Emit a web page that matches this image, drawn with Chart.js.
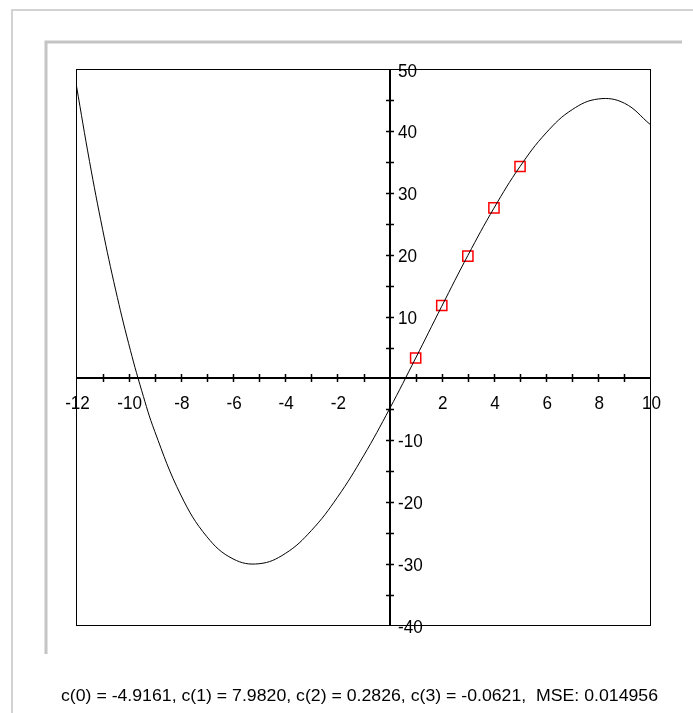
<!DOCTYPE html>
<html>
<head>
<meta charset="utf-8">
<script src="https://cdn.jsdelivr.net/npm/chart.js@4"></script>
<style>
  html, body { margin: 0; padding: 0; background: #fff; }
  canvas { display: block; }
</style>
</head>
<body>
<canvas id="fitCanvas" width="693" height="713"></canvas>
<script>
// fitted cubic, sampled along x
const curveX = [-12, -11.5, -11, -10.5, -10, -9.5, -9, -8, -7, -6, -5, -4, -3, -2, -1, 0, 1, 2, 3, 4, 5, 6, 7, 8, 9, 10];
const curveY = [47.30, 35.11, 24.13, 14.32, 5.62, -2.00, -8.59, -18.89, -25.64, -29.22, -30.00, -28.35, -24.64, -19.25, -12.55, -4.92, 3.29, 11.68, 19.90, 27.56, 34.30, 39.74, 43.51, 45.23, 44.54, 41.06];

// measured samples
const sampleX = [1, 2, 3, 4, 5];
const sampleY = [3.3, 11.8, 19.8, 27.6, 34.3];

// fit coefficients c(0)..c(3) and error
const coeffs = ['-4.9161', '7.9820', '0.2826', '-0.0621'];
const mse = '0.014956';

// axes
const xMin = -12, xMax = 10;
const yMin = -40, yMax = 50;
const xTickValues = [-11, -10, -9, -8, -7, -6, -5, -4, -3, -2, -1, 1, 2, 3, 4, 5, 6, 7, 8, 9];
const xLabelValues = [-12, -10, -8, -6, -4, -2, 2, 4, 6, 8, 10];
const yTickValues = [-35, -30, -25, -20, -15, -10, -5, 5, 10, 15, 20, 25, 30, 35, 40, 45];
const yLabelValues = [50, 40, 30, 20, 10, -10, -20, -30, -40];

const LABEL_FONT = '19px "Liberation Sans", Arial, sans-serif';
const NOTE_FONT = '16px "Liberation Sans", Arial, sans-serif';

// draws text narrowed horizontally by sx
function squeezeText(ctx, text, x, y, align, sx) {
  const w = ctx.measureText(text).width * sx;
  let left = x;
  if (align === 'center') left = x - w / 2;
  else if (align === 'right') left = x - w;
  ctx.save();
  ctx.translate(left, y);
  ctx.scale(sx, 1);
  ctx.textAlign = 'left';
  ctx.fillText(text, 0, 0);
  ctx.restore();
}

const crossAxes = {
  id: 'crossAxes',
  beforeDatasetsDraw(chart) {
    const { ctx, chartArea: a, scales: { x, y } } = chart;
    const ox = Math.round(x.getPixelForValue(0));
    const oy = Math.round(y.getPixelForValue(0));
    ctx.save();

    // panel frames
    ctx.strokeStyle = '#d2d2d2';
    ctx.lineWidth = 2;
    ctx.beginPath();
    ctx.moveTo(12, 713); ctx.lineTo(12, 10); ctx.lineTo(693, 10);
    ctx.stroke();
    ctx.strokeStyle = '#c4c4c4';
    ctx.lineWidth = 3;
    ctx.beginPath();
    ctx.moveTo(46, 654); ctx.lineTo(46, 42); ctx.lineTo(682, 42);
    ctx.stroke();

    // plot box
    ctx.strokeStyle = '#000';
    ctx.lineWidth = 1;
    ctx.strokeRect(a.left, a.top, a.right - a.left, a.bottom - a.top);

    // axes through the origin
    ctx.lineWidth = 2;
    ctx.beginPath();
    ctx.moveTo(a.left, oy); ctx.lineTo(a.right, oy);
    ctx.moveTo(ox, a.top); ctx.lineTo(ox, a.bottom);
    ctx.stroke();

    // cross ticks
    ctx.lineWidth = 1.5;
    ctx.beginPath();
    xTickValues.forEach(v => {
      const px = Math.round(x.getPixelForValue(v)) + 0.5;
      ctx.moveTo(px, oy - 4); ctx.lineTo(px, oy + 4);
    });
    yTickValues.forEach(v => {
      const py = Math.round(y.getPixelForValue(v)) + 0.5;
      ctx.moveTo(ox - 4, py); ctx.lineTo(ox + 4, py);
    });
    ctx.stroke();

    // tick labels
    ctx.fillStyle = '#000';
    ctx.font = LABEL_FONT;
    ctx.textBaseline = 'alphabetic';
    xLabelValues.forEach(v => {
      squeezeText(ctx, String(v), x.getPixelForValue(v) + 1, oy + 31, 'center', 0.9);
    });
    yLabelValues.forEach(v => {
      squeezeText(ctx, String(v), ox + 8, y.getPixelForValue(v) + 7, 'left', 0.9);
    });
    ctx.restore();
  },
  afterDraw(chart) {
    const { ctx } = chart;
    const note = coeffs.map((c, i) => `c(${i}) = ${c}`).join(', ') + ',  MSE: ' + mse;
    ctx.save();
    ctx.fillStyle = '#000';
    ctx.font = NOTE_FONT;
    ctx.textBaseline = 'alphabetic';
    const sx = 597 / ctx.measureText(note).width;
    squeezeText(ctx, note, 61, 701, 'left', sx);
    ctx.restore();
  }
};

const ctx = document.getElementById('fitCanvas').getContext('2d');
const chart = new Chart(ctx, {
  type: 'scatter',
  data: {
    datasets: [
      {
        label: 'fit',
        data: curveX.map((v, i) => ({ x: v, y: curveY[i] })),
        showLine: true,
        borderColor: '#000',
        borderWidth: 1,
        pointRadius: 0,
        tension: 0.4,
        fill: false
      },
      {
        label: 'samples',
        data: sampleX.map((v, i) => ({ x: v, y: sampleY[i] })),
        pointStyle: 'rect',
        pointRadius: 7.2,
        pointHoverRadius: 7.2,
        borderColor: '#ff0000',
        backgroundColor: 'rgba(0,0,0,0)',
        borderWidth: 1.5
      }
    ]
  },
  options: {
    responsive: false,
    animation: false,
    devicePixelRatio: 1,
    layout: { padding: { left: 76.5, right: 42.5, top: 69.5, bottom: 87.5 } },
    scales: {
      x: { type: 'linear', min: xMin, max: xMax, display: false },
      y: { type: 'linear', min: yMin, max: yMax, display: false }
    },
    plugins: {
      legend: { display: false },
      tooltip: { enabled: false }
    }
  },
  plugins: [crossAxes]
});
</script>
</body>
</html>
